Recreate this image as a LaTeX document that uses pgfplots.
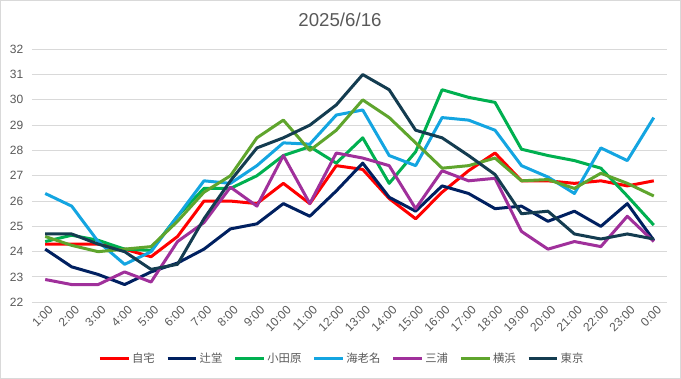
\documentclass[border=0pt]{standalone}
\usepackage{pgfplots}
\pgfplotsset{compat=1.18}
\usepackage{fontspec}
\setmainfont{Liberation Sans}
\newfontfamily\cjk{Noto Sans CJK JP}
\definecolor{cJitaku}{RGB}{255,0,0}
\definecolor{cTsuji}{RGB}{0,32,96}
\definecolor{cOda}{RGB}{0,176,80}
\definecolor{cEbina}{RGB}{20,165,225}
\definecolor{cMiura}{RGB}{160,48,155}
\definecolor{cYoko}{RGB}{95,165,45}
\definecolor{cTokyo}{RGB}{20,60,80}
\definecolor{txt}{RGB}{89,89,89}
\definecolor{grd}{RGB}{217,217,217}
\begin{document}
\begin{tikzpicture}
\path[use as bounding box] (-24pt,-57.5pt) rectangle (486.75pt,226.7pt);
\draw[grd, line width=0.75pt] (-23.6pt,-57.1pt) rectangle (486.35pt,226.3pt);
\node[txt, font=\fontsize{14}{16}\selectfont] at (231pt,211.5pt) {2025/6/16};
\begin{axis}[
  at={(0pt,0pt)}, anchor=south west,
  scale only axis, width=476.25pt, height=189.75pt,
  xmin=-0.5, xmax=23.5, ymin=22, ymax=32,
  xtick={0,...,23},
  xticklabels={1:00,2:00,3:00,4:00,5:00,6:00,7:00,8:00,9:00,10:00,11:00,12:00,13:00,14:00,15:00,16:00,17:00,18:00,19:00,20:00,21:00,22:00,23:00,0:00},
  ytick={22,...,32},
  axis line style={draw=none},
  major tick length=0pt,
  ymajorgrids, grid style={grd, line width=0.75pt},
  tick label style={txt, font=\fontsize{9}{10}\selectfont},
  /pgf/number format/assume math mode=true,
  xticklabel style={rotate=45, anchor=east, yshift=-6pt, xshift=1pt, inner sep=1pt},
  yticklabel style={xshift=-3pt},
  legend columns=-1,
  legend style={at={(0.488,-0.222)}, anchor=center, draw=none, fill=none,
    font=\cjk\fontsize{8.5}{10}\selectfont, text=txt,
    nodes={inner xsep=1.5pt},
    /tikz/every even column/.append style={column sep=7pt}},
  legend image code/.code={\draw[#1, line width=2.25pt] (0pt,0pt) -- (21.5pt,0pt);},
  every axis plot/.append style={line width=2.25pt, line join=round, mark=none},
]
\addplot[cJitaku] coordinates {(0,24.3)(1,24.3)(2,24.3)(3,24.1)(4,23.8)(5,24.6)(6,26.0)(7,26.0)(8,25.9)(9,26.7)(10,25.9)(11,27.4)(12,27.25)(13,26.1)(14,25.3)(15,26.35)(16,27.2)(17,27.9)(18,26.8)(19,26.8)(20,26.7)(21,26.8)(22,26.6)(23,26.8)};
\addlegendentry{自宅}
\addplot[cTsuji] coordinates {(0,24.1)(1,23.4)(2,23.1)(3,22.7)(4,23.2)(5,23.55)(6,24.1)(7,24.9)(8,25.1)(9,25.9)(10,25.4)(11,26.4)(12,27.5)(13,26.15)(14,25.6)(15,26.6)(16,26.3)(17,25.7)(18,25.8)(19,25.2)(20,25.6)(21,25.0)(22,25.9)(23,24.45)};
\addlegendentry{辻堂}
\addplot[cOda] coordinates {(0,24.4)(1,24.65)(2,24.45)(3,24.1)(4,24.05)(5,25.4)(6,26.5)(7,26.5)(8,27.0)(9,27.8)(10,28.15)(11,27.5)(12,28.5)(13,26.7)(14,27.95)(15,30.4)(16,30.1)(17,29.9)(18,28.05)(19,27.8)(20,27.6)(21,27.3)(22,26.2)(23,25.05)};
\addlegendentry{小田原}
\addplot[cEbina] coordinates {(0,26.3)(1,25.8)(2,24.4)(3,23.5)(4,24.0)(5,25.4)(6,26.8)(7,26.7)(8,27.4)(9,28.3)(10,28.25)(11,29.4)(12,29.6)(13,27.8)(14,27.4)(15,29.3)(16,29.2)(17,28.8)(18,27.4)(19,26.95)(20,26.3)(21,28.1)(22,27.6)(23,29.3)};
\addlegendentry{海老名}
\addplot[cMiura] coordinates {(0,22.9)(1,22.7)(2,22.7)(3,23.2)(4,22.8)(5,24.4)(6,25.15)(7,26.55)(8,25.8)(9,27.8)(10,25.9)(11,27.9)(12,27.7)(13,27.4)(14,25.7)(15,27.2)(16,26.8)(17,26.9)(18,24.8)(19,24.1)(20,24.4)(21,24.2)(22,25.4)(23,24.4)};
\addlegendentry{三浦}
\addplot[cYoko] coordinates {(0,24.6)(1,24.25)(2,24.0)(3,24.1)(4,24.2)(5,25.2)(6,26.35)(7,27.0)(8,28.5)(9,29.2)(10,28.0)(11,28.8)(12,30.0)(13,29.3)(14,28.3)(15,27.3)(16,27.4)(17,27.7)(18,26.8)(19,26.85)(20,26.5)(21,27.1)(22,26.7)(23,26.2)};
\addlegendentry{横浜}
\addplot[cTokyo] coordinates {(0,24.7)(1,24.7)(2,24.3)(3,24.0)(4,23.3)(5,23.5)(6,25.3)(7,26.8)(8,28.1)(9,28.5)(10,29.0)(11,29.8)(12,31.0)(13,30.4)(14,28.8)(15,28.5)(16,27.8)(17,27.05)(18,25.5)(19,25.6)(20,24.7)(21,24.5)(22,24.7)(23,24.5)};
\addlegendentry{東京}
\end{axis}
\end{tikzpicture}
\end{document}
